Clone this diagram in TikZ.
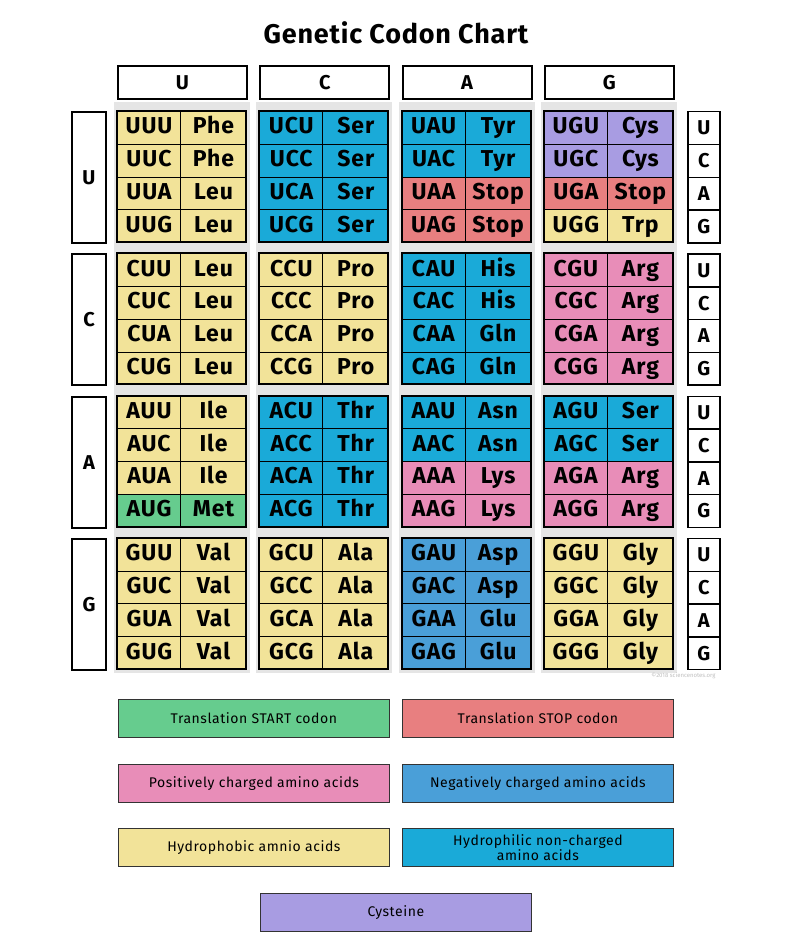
\documentclass[tikz,border=0pt]{standalone}
\usepackage{fontspec}
\setmainfont{Fira Sans}
\definecolor{hyd}{HTML}{F2E399}
\definecolor{phil}{HTML}{1AAAD8}
\definecolor{neg}{HTML}{4A9FD8}
\definecolor{pos}{HTML}{E88DB8}
\definecolor{stp}{HTML}{E87F80}
\definecolor{cys}{HTML}{A89CE2}
\definecolor{sta}{HTML}{66CC8E}
\tikzset{
  cellbox/.style={draw=black, line width=1pt, fill=#1, inner sep=0pt, anchor=north west,
    text height=15pt, text depth=3pt,
    font=\fontsize{23}{23}\selectfont\bfseries\addfontfeature{LetterSpace=4}},
  headbox/.style={draw=black, line width=2pt, fill=white, inner sep=0pt, anchor=north west,
    font=\fontsize{20}{20}\selectfont\bfseries\addfontfeature{LetterSpace=4}},
  legbox/.style={draw=black!80, line width=0.8pt, fill=#1, minimum width=271pt, minimum height=38pt,
    inner sep=2pt, anchor=north west, align=center,
    font=\fontsize{14}{15}\selectfont\addfontfeature{LetterSpace=4}}
}
% one codon row: block column, block row, line, codon, amino acid, colour
\newcommand\cell[6]{%
  \pgfmathsetmacro\cx{117+#1*142.3}\pgfmathsetmacro\cy{111+#2*142.3+#3*32.75}%
  \node[cellbox=#6, minimum width=63pt, minimum height=32.75pt] (c-#4) at (\cx,\cy) {#4};
  \node[cellbox=#6, minimum width=66pt, minimum height=32.75pt] (a-#4) at (\cx+63,\cy) {#5};}
\begin{document}
\begin{tikzpicture}[x=1pt,y=-1pt]
\useasboundingbox (0,0) rectangle (791,939);
\node[font=\fontsize{27}{27}\selectfont\bfseries\addfontfeature{LetterSpace=3}] (title) at (396,33) {Genetic Codon Chart};
% header boxes and shadows
\foreach \b [count=\i from 0] in {U,C,A,G}{
  \node[headbox, minimum width=129pt, minimum height=33pt] (top-\b) at (117+\i*142.3,65) {\b};
  \node[headbox, minimum width=34pt, minimum height=131pt] (left-\b) at (71,111+\i*142.3) {\b};
  \foreach \t [count=\j from 0] in {U,C,A,G}
    \node[headbox, line width=1.5pt, minimum width=32pt, minimum height=32.75pt] (third-\b\t) at (687,111+\i*142.3+\j*32.75) {\t};
  \foreach \k in {0,...,3}
    \fill[black!10] (117+\k*142.3-3,111+\i*142.3-9) rectangle (117+\k*142.3+133,111+\i*142.3+135);
}
% U row
\cell{0}{0}{0}{UUU}{Phe}{hyd}\cell{0}{0}{1}{UUC}{Phe}{hyd}\cell{0}{0}{2}{UUA}{Leu}{hyd}\cell{0}{0}{3}{UUG}{Leu}{hyd}
\cell{1}{0}{0}{UCU}{Ser}{phil}\cell{1}{0}{1}{UCC}{Ser}{phil}\cell{1}{0}{2}{UCA}{Ser}{phil}\cell{1}{0}{3}{UCG}{Ser}{phil}
\cell{2}{0}{0}{UAU}{Tyr}{phil}\cell{2}{0}{1}{UAC}{Tyr}{phil}\cell{2}{0}{2}{UAA}{Stop}{stp}\cell{2}{0}{3}{UAG}{Stop}{stp}
\cell{3}{0}{0}{UGU}{Cys}{cys}\cell{3}{0}{1}{UGC}{Cys}{cys}\cell{3}{0}{2}{UGA}{Stop}{stp}\cell{3}{0}{3}{UGG}{Trp}{hyd}
% C row
\cell{0}{1}{0}{CUU}{Leu}{hyd}\cell{0}{1}{1}{CUC}{Leu}{hyd}\cell{0}{1}{2}{CUA}{Leu}{hyd}\cell{0}{1}{3}{CUG}{Leu}{hyd}
\cell{1}{1}{0}{CCU}{Pro}{hyd}\cell{1}{1}{1}{CCC}{Pro}{hyd}\cell{1}{1}{2}{CCA}{Pro}{hyd}\cell{1}{1}{3}{CCG}{Pro}{hyd}
\cell{2}{1}{0}{CAU}{His}{phil}\cell{2}{1}{1}{CAC}{His}{phil}\cell{2}{1}{2}{CAA}{Gln}{phil}\cell{2}{1}{3}{CAG}{Gln}{phil}
\cell{3}{1}{0}{CGU}{Arg}{pos}\cell{3}{1}{1}{CGC}{Arg}{pos}\cell{3}{1}{2}{CGA}{Arg}{pos}\cell{3}{1}{3}{CGG}{Arg}{pos}
% A row
\cell{0}{2}{0}{AUU}{Ile}{hyd}\cell{0}{2}{1}{AUC}{Ile}{hyd}\cell{0}{2}{2}{AUA}{Ile}{hyd}\cell{0}{2}{3}{AUG}{Met}{sta}
\cell{1}{2}{0}{ACU}{Thr}{phil}\cell{1}{2}{1}{ACC}{Thr}{phil}\cell{1}{2}{2}{ACA}{Thr}{phil}\cell{1}{2}{3}{ACG}{Thr}{phil}
\cell{2}{2}{0}{AAU}{Asn}{phil}\cell{2}{2}{1}{AAC}{Asn}{phil}\cell{2}{2}{2}{AAA}{Lys}{pos}\cell{2}{2}{3}{AAG}{Lys}{pos}
\cell{3}{2}{0}{AGU}{Ser}{phil}\cell{3}{2}{1}{AGC}{Ser}{phil}\cell{3}{2}{2}{AGA}{Arg}{pos}\cell{3}{2}{3}{AGG}{Arg}{pos}
% G row
\cell{0}{3}{0}{GUU}{Val}{hyd}\cell{0}{3}{1}{GUC}{Val}{hyd}\cell{0}{3}{2}{GUA}{Val}{hyd}\cell{0}{3}{3}{GUG}{Val}{hyd}
\cell{1}{3}{0}{GCU}{Ala}{hyd}\cell{1}{3}{1}{GCC}{Ala}{hyd}\cell{1}{3}{2}{GCA}{Ala}{hyd}\cell{1}{3}{3}{GCG}{Ala}{hyd}
\cell{2}{3}{0}{GAU}{Asp}{neg}\cell{2}{3}{1}{GAC}{Asp}{neg}\cell{2}{3}{2}{GAA}{Glu}{neg}\cell{2}{3}{3}{GAG}{Glu}{neg}
\cell{3}{3}{0}{GGU}{Gly}{hyd}\cell{3}{3}{1}{GGC}{Gly}{hyd}\cell{3}{3}{2}{GGA}{Gly}{hyd}\cell{3}{3}{3}{GGG}{Gly}{hyd}
% outlines of blocks
\foreach \i in {0,...,3}\foreach \k in {0,...,3}
  \draw[line width=2pt] (117+\k*142.3,111+\i*142.3) rectangle +(129,131);
\node[anchor=north east, text=black!25, font=\fontsize{6}{6}\selectfont] (credit) at (719,669) {\textcopyright 2018 sciencenotes.org};
% legend
\node[legbox=sta] (leg-start) at (118,699) {Translation START codon};
\node[legbox=stp] (leg-stop) at (402,699) {Translation STOP codon};
\node[legbox=pos] (leg-pos) at (118,764) {Positively charged amino acids};
\node[legbox=neg] (leg-neg) at (402,764) {Negatively charged amino acids};
\node[legbox=hyd] (leg-hyd) at (118,828) {Hydrophobic amnio acids};
\node[legbox=phil] (leg-phil) at (402,828) {Hydrophilic non-charged\\amino acids};
\node[legbox=cys] (leg-cys) at (260,893) {Cysteine};
\end{tikzpicture}
\end{document}
